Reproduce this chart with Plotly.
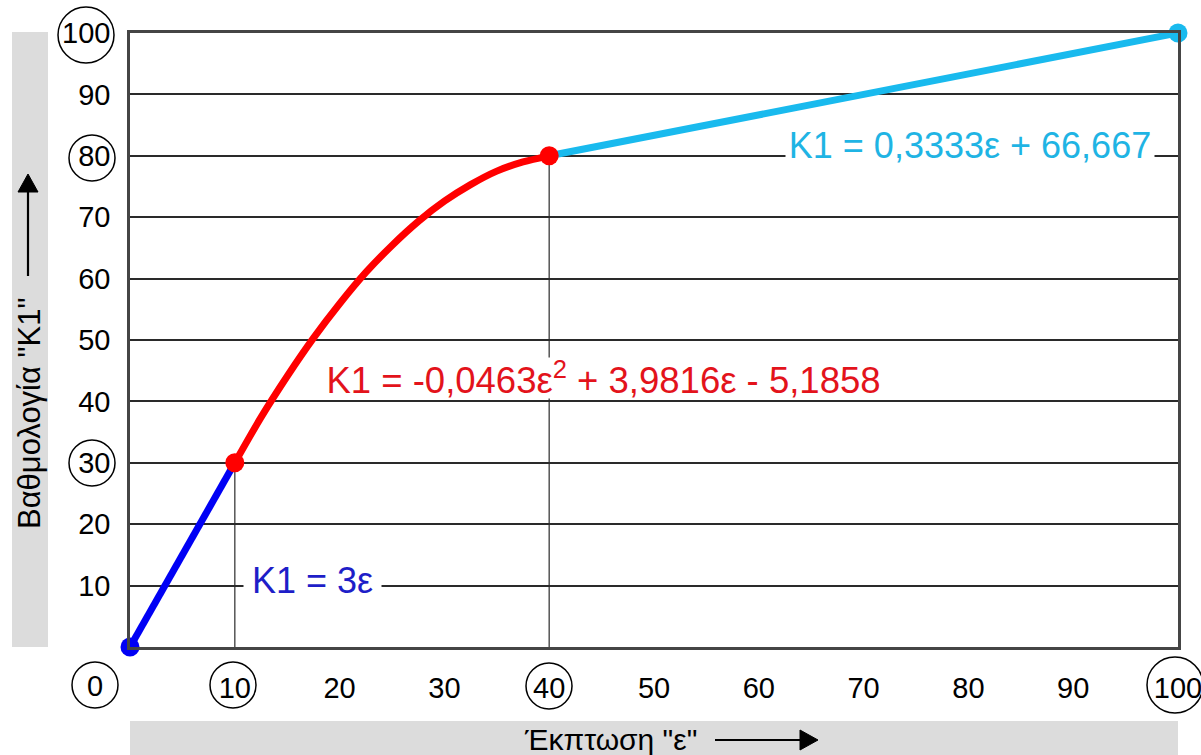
import plotly.graph_objects as go

# ---- data ----
eps_lin1 = [0, 10]
k1_lin1 = [0, 30]

eps_quad = [10, 12.5, 15, 17.5, 20, 22.5, 25, 27.5, 30, 32.5, 35, 37.5, 40]
k1_quad = [30, 37.4, 44.1, 50.3, 55.9, 61.0, 65.4, 69.3, 72.6, 75.3, 77.5, 79.0, 80]

eps_lin2 = [40, 100]
k1_lin2 = [80, 100]

tick_vals = [10, 20, 30, 40, 50, 60, 70, 80, 90, 100]
tick_text = ["10", "20", "30", "40", "50", "60", "70", "80", "90", "100"]

eq_blue = "K1 = 3ε"
eq_red = "K1 = -0,0463ε<sup>2</sup> + 3,9816ε - 5,1858"
eq_cyan = "K1 = 0,3333ε + 66,667"
x_title = "Έκπτωση \"ε\""
y_title = "Βαθμολογία \"K1\""

BLUE = "#0000F5"
RED = "#FF0000"
CYAN = "#19BAEE"
FONT = "Liberation Sans, Arial, sans-serif"

W, H = 1201, 755
ML, MR, MT, MB = 130, 23, 33, 108
PW, PH = W - ML - MR, H - MT - MB


def px_x(p):
    return (p - ML) / PW


def px_y(p):
    return (H - MB - p) / PH


fig = go.Figure()

# lines
fig.add_trace(go.Scatter(x=eps_lin1, y=k1_lin1, mode="lines",
                         line=dict(color=BLUE, width=7), cliponaxis=False, hoverinfo="skip"))
fig.add_trace(go.Scatter(x=eps_quad, y=k1_quad, mode="lines",
                         line=dict(color=RED, width=7, shape="spline", smoothing=0.8),
                         cliponaxis=False, hoverinfo="skip"))
fig.add_trace(go.Scatter(x=eps_lin2, y=k1_lin2, mode="lines",
                         line=dict(color=CYAN, width=7), cliponaxis=False, hoverinfo="skip"))
# markers
fig.add_trace(go.Scatter(x=[eps_lin1[0]], y=[k1_lin1[0]], mode="markers",
                         marker=dict(color=BLUE, size=19), cliponaxis=False))
fig.add_trace(go.Scatter(x=[eps_quad[0], eps_quad[-1]], y=[k1_quad[0], k1_quad[-1]], mode="markers",
                         marker=dict(color=RED, size=19), cliponaxis=False))
fig.add_trace(go.Scatter(x=[eps_lin2[-1]], y=[k1_lin2[-1]], mode="markers",
                         marker=dict(color=CYAN, size=19), cliponaxis=False))

shapes = []
# drop lines at the break points
for xv, yv in [(eps_lin1[-1], k1_lin1[-1]), (eps_quad[-1], k1_quad[-1])]:
    shapes.append(dict(type="line", xref="x", yref="y", x0=xv, x1=xv, y0=0, y1=yv,
                       line=dict(color="#555555", width=1.5), layer="below"))

# grey title bands
shapes.append(dict(type="rect", xref="paper", yref="paper",
                   x0=px_x(12), x1=px_x(48), y0=px_y(647), y1=px_y(32),
                   fillcolor="#DCDCDC", line=dict(width=0), layer="below"))
shapes.append(dict(type="rect", xref="paper", yref="paper",
                   x0=px_x(130), x1=px_x(1178), y0=px_y(755), y1=px_y(721),
                   fillcolor="#DCDCDC", line=dict(width=0), layer="below"))

# circles around highlighted tick labels
circles = [(86, 35, 28), (92, 158, 23), (92, 463, 23),
           (95, 685, 23), (233, 685, 23), (549, 686, 23), (1175, 685, 28)]
for cx, cy, r in circles:
    shapes.append(dict(type="circle", xref="paper", yref="paper",
                       xsizemode="pixel", ysizemode="pixel",
                       xanchor=px_x(cx), yanchor=px_y(cy),
                       x0=-r, x1=r, y0=-r, y1=r,
                       line=dict(color="black", width=1.5), layer="above"))

# title arrows (shaft + filled head)
shapes.append(dict(type="line", xref="paper", yref="paper",
                   x0=px_x(715), x1=px_x(802), y0=px_y(740), y1=px_y(740),
                   line=dict(color="black", width=2.2), layer="above"))
shapes.append(dict(type="path", xref="paper", yref="paper",
                   xsizemode="pixel", ysizemode="pixel",
                   xanchor=px_x(818), yanchor=px_y(740),
                   path="M0,0 L-18,-10 L-18,10 Z",
                   fillcolor="black", line=dict(color="black", width=1), layer="above"))
shapes.append(dict(type="line", xref="paper", yref="paper",
                   x0=px_x(28), x1=px_x(28), y0=px_y(276), y1=px_y(190),
                   line=dict(color="black", width=2.2), layer="above"))
shapes.append(dict(type="path", xref="paper", yref="paper",
                   xsizemode="pixel", ysizemode="pixel",
                   xanchor=px_x(28), yanchor=px_y(174),
                   path="M0,0 L-10,-18 L10,-18 Z",
                   fillcolor="black", line=dict(color="black", width=1), layer="above"))

annotations = [
    dict(text="0", xref="paper", yref="paper", x=px_x(95), y=px_y(686),
         showarrow=False, font=dict(family=FONT, size=29, color="black"),
         xanchor="center", yanchor="middle"),
    dict(text=eq_blue, xref="x", yref="y", x=(243 - ML) / PW * 100, y=(H - MB - 580) / PH * 100,
         xanchor="left", yanchor="middle", showarrow=False, bgcolor="white", borderpad=0,
         width=137, height=44, align="center", valign="middle",
         font=dict(family=FONT, size=36, color="#1E1EC8")),
    dict(text=eq_red, xref="x", yref="y", x=(315 - ML) / PW * 100, y=(H - MB - 378) / PH * 100,
         xanchor="left", yanchor="middle", showarrow=False, bgcolor="white", borderpad=0,
         width=575, height=40, align="center", valign="middle",
         font=dict(family=FONT, size=36.5, color="#E3131B")),
    dict(text=eq_cyan, xref="x", yref="y", x=(785 - ML) / PW * 100, y=(H - MB - 145) / PH * 100,
         xanchor="left", yanchor="middle", showarrow=False, bgcolor="white", borderpad=0,
         width=368, height=44, align="center", valign="middle",
         font=dict(family=FONT, size=36, color="#1FB4E4")),
    dict(text=x_title, xref="paper", yref="paper", x=px_x(610), y=px_y(739),
         showarrow=False, font=dict(family=FONT, size=30, color="black"),
         xanchor="center", yanchor="middle"),
    dict(text=y_title, xref="paper", yref="paper", x=px_x(29), y=px_y(414),
         showarrow=False, textangle=-90, font=dict(family=FONT, size=31, color="black"),
         xanchor="center", yanchor="middle"),
]

fig.update_layout(
    width=W, height=H,
    margin=dict(l=ML, r=MR, t=MT, b=MB, pad=0, autoexpand=False),
    paper_bgcolor="white", plot_bgcolor="white",
    showlegend=False,
    shapes=shapes,
    annotations=annotations,
    font=dict(family=FONT, size=29, color="black"),
)
fig.update_xaxes(range=[0, 100], tickvals=tick_vals, ticktext=tick_text,
                 showgrid=False, zeroline=False, ticks="", automargin=False,
                 showline=True, linecolor="#454545", linewidth=2.5, mirror=True,
                 ticklabelstandoff=13, ticklabeloverflow="allow",
                 tickfont=dict(family=FONT, size=29, color="black"))
fig.update_yaxes(range=[0, 100], tickvals=tick_vals, ticktext=tick_text,
                 showgrid=True, gridcolor="#2A2A2A", gridwidth=1.5, zeroline=False, ticks="",
                 automargin=False,
                 showline=True, linecolor="#454545", linewidth=2.5, mirror=True,
                 ticklabelstandoff=11, ticklabeloverflow="allow",
                 tickfont=dict(family=FONT, size=29, color="black"))

fig.write_html("out.html", config={"displayModeBar": False},
               post_script="document.body.style.margin='0';document.body.style.overflow='hidden';")
